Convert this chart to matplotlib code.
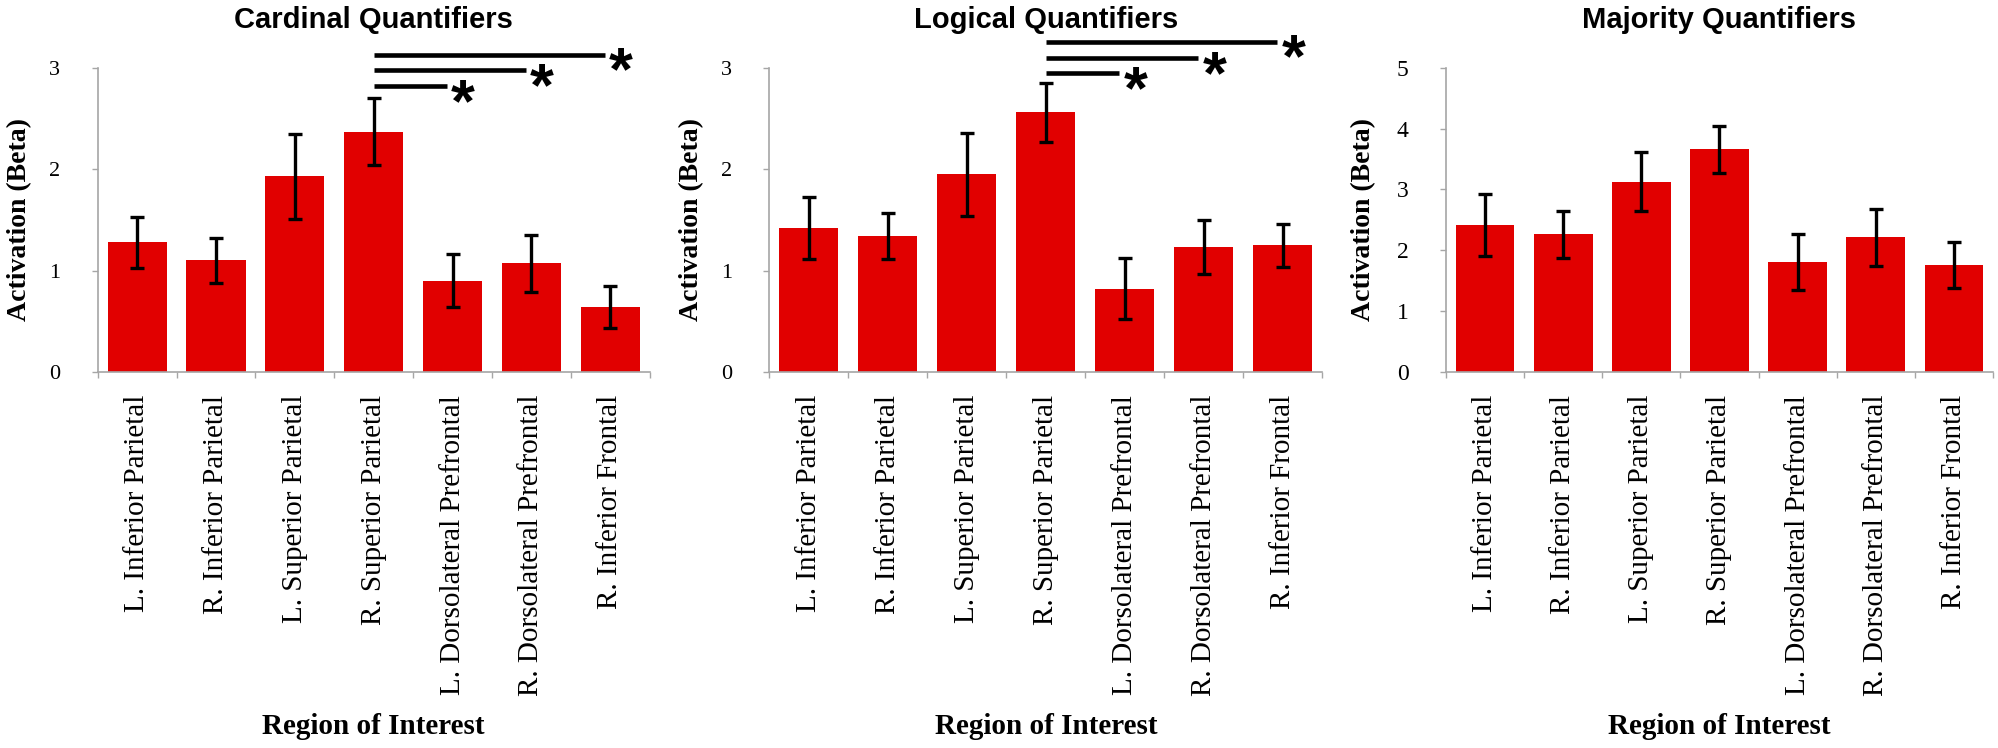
import matplotlib
matplotlib.use("Agg")
import matplotlib.pyplot as plt
import numpy as np

regions = ["L. Inferior Parietal", "R. Inferior Parietal", "L. Superior Parietal",
           "R. Superior Parietal", "L. Dorsolateral Prefrontal",
           "R. Dorsolateral Prefrontal", "R. Inferior Frontal"]

titles = ["Cardinal Quantifiers", "Logical Quantifiers", "Majority Quantifiers"]

cardinal_vals = [1.28, 1.10, 1.93, 2.37, 0.90, 1.07, 0.64]
cardinal_err = [0.25, 0.225, 0.42, 0.33, 0.26, 0.28, 0.21]

logical_vals = [1.42, 1.34, 1.95, 2.56, 0.82, 1.23, 1.25]
logical_err = [0.31, 0.225, 0.41, 0.29, 0.30, 0.265, 0.21]

majority_vals = [2.42, 2.26, 3.13, 3.66, 1.81, 2.21, 1.76]
majority_err = [0.51, 0.38, 0.48, 0.39, 0.46, 0.47, 0.38]

y_max = [3, 3, 5]

# significance comparisons: (from index, to index, line height)
cardinal_sig = [(3, 4, 2.82), (3, 5, 2.975), (3, 6, 3.13)]
logical_sig = [(3, 4, 2.944), (3, 5, 3.095), (3, 6, 3.256)]
majority_sig = []

W, H = 1999, 748
fig = plt.figure(figsize=(W / 100, H / 100), dpi=100)

axes_px = [(97.7, 552), (769.3, 553), (1446, 547)]
top_px, zero_px = 67.7, 372.0
bottom = (H - zero_px) / H
height = (zero_px - top_px) / H

serif = "Liberation Serif"
sans = "Liberation Sans"
red = "#e10000"
grey = "#a6a6a6"

datasets = [(cardinal_vals, cardinal_err, cardinal_sig),
            (logical_vals, logical_err, logical_sig),
            (majority_vals, majority_err, majority_sig)]

ylabel_off = [-78.5, -78, -82]
ytick_size = [16, 16, 17]
star_fs = 44

for i, ((left_px, width_px), (vals, errs, sigs)) in enumerate(zip(axes_px, datasets)):
    ax = fig.add_axes([left_px / W, bottom, width_px / W, height])
    x = np.arange(len(regions))
    ax.bar(x, vals, width=0.75, color=red, zorder=2)
    ax.errorbar(x, vals, yerr=errs, fmt="none", ecolor="black",
                elinewidth=2.4, capsize=4.7, capthick=2.4, zorder=3)
    ax.set_xlim(-0.5, len(regions) - 0.5)
    ax.set_ylim(0, y_max[i])
    ax.set_yticks(np.arange(0, y_max[i] + 1))
    ax.set_xticks(x)
    ax.set_xticklabels(regions, rotation=90, fontfamily=serif, fontsize=21)
    ax.set_xticks(np.arange(-0.5, len(regions)), minor=True)
    ax.tick_params(axis="x", which="major", length=0, pad=16.5)
    ax.tick_params(axis="x", which="minor", length=4, width=1, color=grey, direction="out")
    ax.tick_params(axis="y", length=4, width=1, color=grey, direction="out", pad=23,
                   labelsize=ytick_size[i])
    for lab in ax.get_yticklabels():
        lab.set_fontfamily(serif)
    for s in ["top", "right"]:
        ax.spines[s].set_visible(False)
    for s in ["left", "bottom"]:
        ax.spines[s].set_color(grey)
        ax.spines[s].set_linewidth(1.2)

    ax.set_ylabel("Activation (Beta)", fontfamily=serif, fontweight="bold", fontsize=20)
    ax.yaxis.set_label_coords(ylabel_off[i] / width_px, 0.5)
    ax.yaxis.label.set_va("center")
    ax.set_xlabel("Region of Interest", fontfamily=serif, fontweight="bold", fontsize=21)
    ax.xaxis.set_label_coords(0.5, -(727 - zero_px) / (zero_px - top_px))
    ax.xaxis.label.set_va("center")

    ax.text(0.5, 1 + (top_px - 28.3) / (zero_px - top_px), titles[i],
            transform=ax.transAxes, ha="center", va="baseline",
            fontfamily=sans, fontweight="bold", fontsize=21)

    for (a, b, yv) in sigs:
        ax.plot([a, b - 0.07], [yv, yv], color="black", lw=3.3, solid_capstyle="butt",
                clip_on=False, zorder=4)
        ax.annotate("*", xy=(b, yv), xytext=(-1.0, -0.57 * star_fs),
                    textcoords="offset points", ha="left", va="baseline",
                    fontsize=star_fs, fontfamily=sans, fontweight="bold",
                    annotation_clip=False)

fig.savefig("out.png", dpi=100, facecolor="white")
